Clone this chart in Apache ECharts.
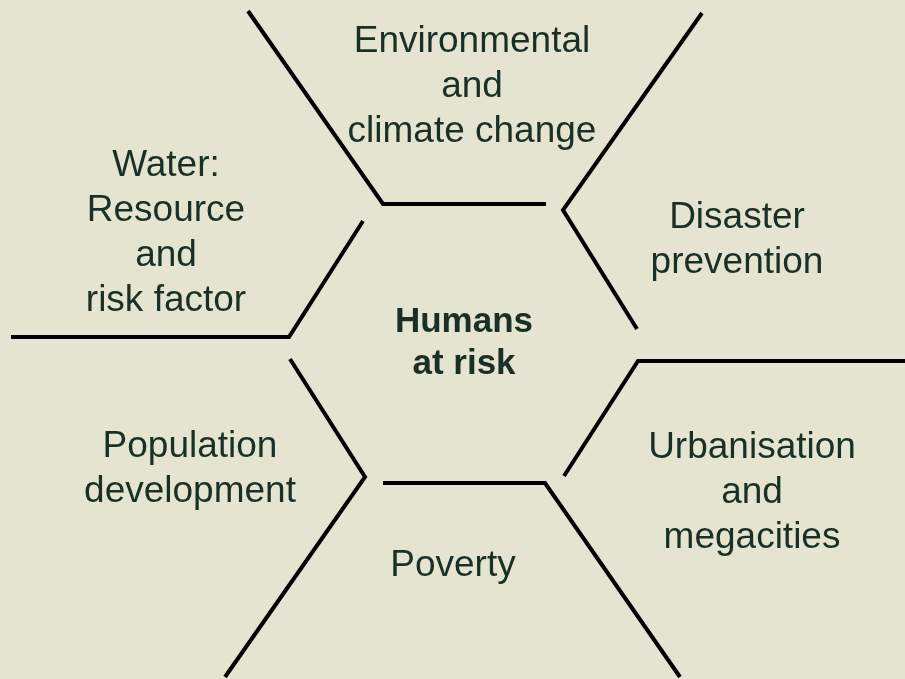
<!DOCTYPE html>
<html>
<head>
<meta charset="utf-8">
<script src="https://cdn.jsdelivr.net/npm/echarts@6/dist/echarts.min.js"></script>
<style>html,body{margin:0;padding:0;background:#E5E4D1;}#c{width:905px;height:679px;}</style>
</head>
<body>
<div id="c"></div>
<script>
// Diagram strokes: each polyline as lists of [x, y] points in diagram units
var strokeTop = [[248, 11], [383, 204], [546, 204]];
var strokeTopRight = [[702, 13], [563, 210], [637, 329]];
var strokeLeft = [[11, 337], [289, 337], [363, 221]];
var strokeRight = [[564, 476], [638, 361], [905, 361]];
var strokeLowerLeft = [[290, 359], [365, 477], [225, 677]];
var strokeBottom = [[383, 483], [545, 483], [680, 677]];

// Topic labels
var topicNames = [
  "Environmental\nand\nclimate change",
  "Water:\nResource\nand\nrisk factor",
  "Disaster\nprevention",
  "Humans\nat risk",
  "Population\ndevelopment",
  "Urbanisation\nand\nmegacities",
  "Poverty"
];
var topicAnchors = [[472, 87], [166, 233], [737, 240], [464, 343], [190, 469], [752, 493], [453, 566]];
var topicBold = [false, false, false, true, false, false, false];

var strokes = [strokeTop, strokeTopRight, strokeLeft, strokeRight, strokeLowerLeft, strokeBottom];

var series = strokes.map(function (s) {
  return {
    type: 'line', data: s, symbol: 'none', silent: true,
    lineStyle: { color: '#000', width: 4, join: 'miter' },
    animation: false
  };
});
series.push({
  type: 'scatter', symbolSize: 0, silent: true, animation: false,
  itemStyle: { opacity: 1 },
  data: topicNames.map(function (n, i) {
    return {
      value: topicAnchors[i], name: n,
      label: {
        show: true, position: 'inside', formatter: n,
        fontFamily: 'Liberation Sans, Arial, sans-serif',
        fontSize: topicBold[i] ? 35 : 37,
        fontWeight: topicBold[i] ? 'bold' : 'normal',
        lineHeight: topicBold[i] ? 42 : 45,
        color: '#1A3026', opacity: 1, align: 'center', verticalAlign: 'middle'
      }
    };
  })
});

var chart = echarts.init(document.getElementById('c'));
chart.setOption({
  backgroundColor: '#E5E4D1',
  animation: false,
  grid: { left: 0, right: 0, top: 0, bottom: 0 },
  xAxis: { type: 'value', min: 0, max: 905, show: false },
  yAxis: { type: 'value', min: 0, max: 679, inverse: true, show: false },
  series: series
});
</script>
</body>
</html>
